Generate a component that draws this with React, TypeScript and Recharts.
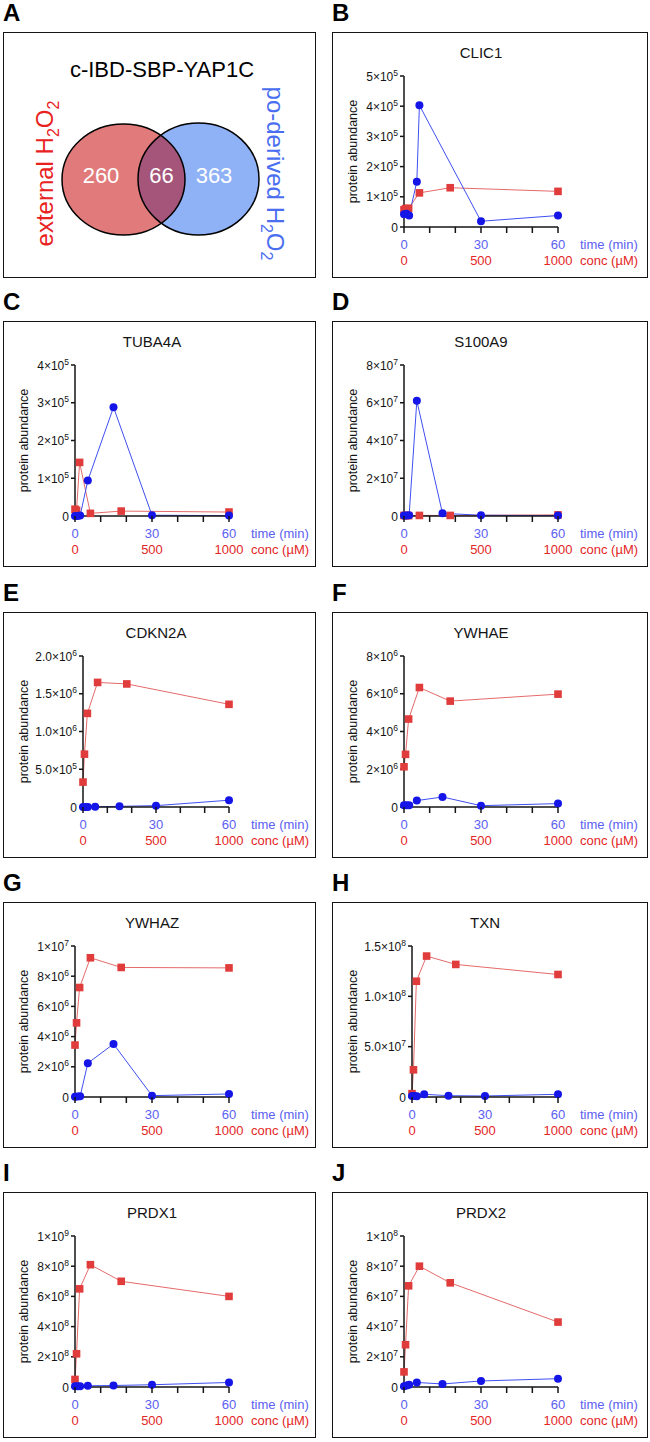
import React from "react";
import { LineChart, Line, XAxis, YAxis, Surface } from "recharts";

const FONT = '"Liberation Sans", Arial, Helvetica, sans-serif';

const RED = "#e03c3c";
const RED_LINE = "#e56a6a";
const RED_TEXT = "#e32626";
const BLUE = "#1515e8";
const BLUE_LINE = "#3f4ff2";
const BLUE_TEXT = "#5b60f2";
const INK = "#141414";

// shared x values
const concUM = [0, 10, 30, 100, 300, 1000];
const timeMin = [0, 1, 2, 5, 15, 30, 60];
const clic1TimeMin = [0, 1, 2, 5, 6, 30, 60];
const timeTicks = [0, 10, 20, 30, 40, 50, 60];
const timeTickLabels = [0, 30, 60];
const concTicks = [0, 500, 1000];

// venn (panel A)
const vennTitle = "c-IBD-SBP-YAP1C";
const vennCounts = [260, 66, 363];

// ext = external H2O2 (red, by conc), po = po-derived H2O2 (blue, by time)
const clic1Ext = [57e3, 61e3, 62e3, 113e3, 130e3, 118e3];
const clic1Po = [42e3, 44e3, 38e3, 150e3, 403e3, 19e3, 38e3];
const clic1Ticks = [0, 1e5, 2e5, 3e5, 4e5, 5e5];

const tuba4aExt = [18e3, 15e3, 142e3, 7e3, 13e3, 10.5e3];
const tuba4aPo = [0, 0, 1e3, 94e3, 288e3, 2e3, 1e3];
const tuba4aTicks = [0, 1e5, 2e5, 3e5, 4e5];

const s100a9Ext = [0.3e6, 0.2e6, 0.2e6, 0.3e6, 0.3e6, 0.6e6];
const s100a9Po = [0.3e6, 0.3e6, 0.4e6, 61e6, 1.4e6, 0.4e6, 0.2e6];
const s100a9Ticks = [0, 2e7, 4e7, 6e7, 8e7];

const cdkn2aExt = [0.33e6, 0.7e6, 1.24e6, 1.65e6, 1.63e6, 1.36e6];
const cdkn2aPo = [0, 0, 0, 2e3, 9e3, 18e3, 90e3];
const cdkn2aTicks = [0, 5e5, 1e6, 1.5e6, 2e6];

const ywhaeExt = [2.13e6, 2.79e6, 4.66e6, 6.33e6, 5.61e6, 5.98e6];
const ywhaePo = [0.09e6, 0.09e6, 0.09e6, 0.34e6, 0.53e6, 0.07e6, 0.18e6];
const ywhaeTicks = [0, 2e6, 4e6, 6e6, 8e6];

const ywhazExt = [3.44e6, 4.91e6, 7.25e6, 9.22e6, 8.58e6, 8.55e6];
const ywhazPo = [0.02e6, 0.03e6, 0.05e6, 2.24e6, 3.51e6, 0.09e6, 0.2e6];
const ywhazTicks = [0, 2e6, 4e6, 6e6, 8e6, 1e7];

const txnExt = [3.3e6, 27e6, 115e6, 140e6, 131.7e6, 121.7e6];
const txnPo = [1e6, 1e6, 0.7e6, 2.7e6, 1.3e6, 1e6, 2.7e6];
const txnTicks = [0, 5e7, 1e8, 1.5e8];

const prdx1Ext = [50e6, 220e6, 650e6, 810e6, 700e6, 600e6];
const prdx1Po = [5e6, 5e6, 5e6, 8e6, 10e6, 15e6, 30e6];
const prdx1Ticks = [0, 2e8, 4e8, 6e8, 8e8, 1e9];

const prdx2Ext = [10e6, 28e6, 67e6, 80e6, 69e6, 43e6];
const prdx2Po = [0.5e6, 1e6, 1.5e6, 3e6, 2e6, 4e6, 5.5e6];
const prdx2Ticks = [0, 2e7, 4e7, 6e7, 8e7, 1e8];

type PanelDef = {
  letter: string;
  name: string;
  col: number;
  row: number;
  ext: number[];
  po: number[];
  poTime: number[];
  yTicks: number[];
  decimals: number;
};

const panels: PanelDef[] = [
  { letter: "B", name: "CLIC1", col: 1, row: 0, ext: clic1Ext, po: clic1Po, poTime: clic1TimeMin, yTicks: clic1Ticks, decimals: 0 },
  { letter: "C", name: "TUBA4A", col: 0, row: 1, ext: tuba4aExt, po: tuba4aPo, poTime: timeMin, yTicks: tuba4aTicks, decimals: 0 },
  { letter: "D", name: "S100A9", col: 1, row: 1, ext: s100a9Ext, po: s100a9Po, poTime: timeMin, yTicks: s100a9Ticks, decimals: 0 },
  { letter: "E", name: "CDKN2A", col: 0, row: 2, ext: cdkn2aExt, po: cdkn2aPo, poTime: timeMin, yTicks: cdkn2aTicks, decimals: 1 },
  { letter: "F", name: "YWHAE", col: 1, row: 2, ext: ywhaeExt, po: ywhaePo, poTime: timeMin, yTicks: ywhaeTicks, decimals: 0 },
  { letter: "G", name: "YWHAZ", col: 0, row: 3, ext: ywhazExt, po: ywhazPo, poTime: timeMin, yTicks: ywhazTicks, decimals: 0 },
  { letter: "H", name: "TXN", col: 1, row: 3, ext: txnExt, po: txnPo, poTime: timeMin, yTicks: txnTicks, decimals: 1 },
  { letter: "I", name: "PRDX1", col: 0, row: 4, ext: prdx1Ext, po: prdx1Po, poTime: timeMin, yTicks: prdx1Ticks, decimals: 0 },
  { letter: "J", name: "PRDX2", col: 1, row: 4, ext: prdx2Ext, po: prdx2Po, poTime: timeMin, yTicks: prdx2Ticks, decimals: 0 },
];

// page layout
const colX = [3, 332];
const colW = [313, 316];
const rowY = [32, 321, 612, 902, 1192];
const BOX_H = 246;
const PLOT_TOP = 44;
const PLOT_BOTTOM = 195;
const PLOT_RIGHT = 226;
const T_AXIS_H = 22;
const C_AXIS_H = 16;
const X_TICK = 6;

const axisStroke = { stroke: INK, strokeWidth: 1.5 };

function sciLabel(v: number, decimals: number) {
  if (v === 0) return { m: "0", e: "" };
  const e = Math.floor(Math.log10(v) + 1e-9);
  const m = (v / Math.pow(10, e)).toFixed(decimals);
  return { m: m + "×10", e: String(e) };
}

// draws its own tick mark so the minor ticks (10, 20, ...) stay visible
const TimeTick = (props: any) => {
  const { x, y, payload } = props;
  const top = y - X_TICK - 2;
  return (
    <g>
      <line x1={x} x2={x} y1={top} y2={top + X_TICK} stroke={INK} strokeWidth={1.5} />
      {timeTickLabels.includes(payload.value) && (
        <text x={x} y={y} dy={14} textAnchor="middle" fill={BLUE_TEXT} fontSize={13} fontFamily={FONT}>
          {payload.value}
        </text>
      )}
    </g>
  );
};

const ConcTick = (props: any) => {
  const { x, y, payload } = props;
  return (
    <text x={x} y={y} dy={16} textAnchor="middle" fill={RED_TEXT} fontSize={13} fontFamily={FONT}>
      {payload.value}
    </text>
  );
};

const makeYTick = (decimals: number) => (props: any) => {
  const { x, y, payload } = props;
  const lab = sciLabel(payload.value, decimals);
  return (
    <text x={x} y={y} dy={4.5} textAnchor="end" fill={INK} fontSize={12} fontFamily={FONT}>
      <tspan>{lab.m}</tspan>
      {lab.e && (
        <tspan dy={-5} fontSize={8.5}>
          {lab.e}
        </tspan>
      )}
    </text>
  );
};

const SquareDot = (props: any) => {
  const { cx, cy, index } = props;
  if (cx == null || cy == null) return <g key={index} />;
  return <rect key={index} x={cx - 3.8} y={cy - 3.8} width={7.6} height={7.6} fill={RED} />;
};

function PanelLetter({ letter, x, y }: { letter: string; x: number; y: number }) {
  return (
    <div
      style={{
        position: "absolute",
        left: x,
        top: y - 31,
        fontFamily: FONT,
        fontWeight: 700,
        fontSize: 24,
        lineHeight: "24px",
        color: "#000",
      }}
    >
      {letter}
    </div>
  );
}

function BoxBorder() {
  return (
    <div
      style={{
        position: "absolute",
        inset: 0,
        border: "1.5px solid " + INK,
        boxSizing: "border-box",
        pointerEvents: "none",
      }}
    />
  );
}

function ProteinPanel({ p }: { p: PanelDef }) {
  const x0 = colX[p.col];
  const y0 = rowY[p.row];
  const w = colW[p.col];
  const plotLeft = p.decimals ? 80 : 72;
  const yMax = p.yTicks[p.yTicks.length - 1];
  const extData = concUM.map((c, i) => ({ x: c, y: p.ext[i] }));
  const poData = p.poTime.map((t, i) => ({ x: t, y: p.po[i] }));
  const bottom = BOX_H - PLOT_BOTTOM - T_AXIS_H - C_AXIS_H;

  return (
    <>
      <PanelLetter letter={p.letter} x={x0} y={y0} />
      <div style={{ position: "absolute", left: x0, top: y0, width: w, height: BOX_H }}>
        <LineChart
          width={w}
          height={BOX_H}
          margin={{ top: PLOT_TOP, right: w - PLOT_RIGHT, bottom, left: 0 }}
        >
          <XAxis
            xAxisId="a"
            type="number"
            dataKey="x"
            domain={[0, 60]}
            ticks={timeTicks}
            interval={0}
            tickSize={X_TICK}
            height={T_AXIS_H}
            axisLine={axisStroke}
            tickLine={false}
            tick={TimeTick}
          />
          <XAxis
            xAxisId="b"
            type="number"
            dataKey="x"
            domain={[0, 1000]}
            ticks={concTicks}
            interval={0}
            tickSize={0}
            tickMargin={0}
            height={C_AXIS_H}
            axisLine={false}
            tickLine={false}
            tick={ConcTick}
          />
          <YAxis
            type="number"
            domain={[0, yMax]}
            ticks={p.yTicks}
            interval={0}
            width={plotLeft}
            tickSize={4}
            axisLine={axisStroke}
            tickLine={axisStroke}
            tick={makeYTick(p.decimals)}
          />
          <Line
            xAxisId="b"
            data={extData}
            dataKey="y"
            type="linear"
            stroke={RED_LINE}
            strokeWidth={1}
            dot={SquareDot}
            activeDot={false}
            isAnimationActive={false}
          />
          <Line
            xAxisId="a"
            data={poData}
            dataKey="y"
            type="linear"
            stroke={BLUE_LINE}
            strokeWidth={1}
            dot={{ r: 4, fill: BLUE, stroke: BLUE, strokeWidth: 0 }}
            activeDot={false}
            isAnimationActive={false}
          />
        </LineChart>
        <svg
          width={w}
          height={BOX_H}
          style={{ position: "absolute", left: 0, top: 0, pointerEvents: "none" }}
          fontFamily={FONT}
        >
          <text x={(plotLeft + PLOT_RIGHT) / 2} y={26} textAnchor="middle" fontSize={15} fill={INK}>
            {p.name}
          </text>
          <text
            transform={`translate(25, ${(PLOT_TOP + PLOT_BOTTOM) / 2}) rotate(-90)`}
            textAnchor="middle"
            fontSize={12.5}
            fill={INK}
          >
            protein abundance
          </text>
          <text x={248} y={217} fontSize={13} fill={BLUE_TEXT}>
            time (min)
          </text>
          <text x={248} y={233} fontSize={13} fill={RED_TEXT}>
            conc (µM)
          </text>
        </svg>
        <BoxBorder />
      </div>
    </>
  );
}

function VennPanel() {
  const x0 = colX[0];
  const y0 = rowY[0];
  const w = colW[0];
  const red = { cx: 120.5, cy: 147.5, rx: 61.5, ry: 55.5 };
  const blue = { cx: 195.5, cy: 147, rx: 60.5, ry: 56 };
  const numX = [98, 158.5, 211];
  return (
    <>
      <PanelLetter letter="A" x={x0} y={y0} />
      <div style={{ position: "absolute", left: x0, top: y0, width: w, height: BOX_H }}>
        <Surface width={w} height={BOX_H} viewBox={{ x: 0, y: 0, width: w, height: BOX_H }}>
          <defs>
            <clipPath id="venn-red-clip">
              <ellipse {...red} />
            </clipPath>
          </defs>
          <ellipse {...red} fill="#e17b7b" />
          <ellipse {...blue} fill="#8fb1f6" />
          <ellipse {...blue} fill="#a5557a" clipPath="url(#venn-red-clip)" />
          <ellipse {...red} fill="none" stroke="#000" strokeWidth={1.5} />
          <ellipse {...blue} fill="none" stroke="#000" strokeWidth={1.5} />
          <text x={159} y={45} textAnchor="middle" fontSize={22} fontFamily={FONT} fill="#000">
            {vennTitle}
          </text>
          {vennCounts.map((n, i) => (
            <text key={n} x={numX[i]} y={151} textAnchor="middle" fontSize={22} fontFamily={FONT} fill="#fff">
              {n}
            </text>
          ))}
          <text
            transform="translate(50, 141.5) rotate(-90)"
            textAnchor="middle"
            fontSize={24}
            fontFamily={FONT}
            fill="#e8221e"
          >
            external H<tspan dy={6} fontSize={16}>2</tspan>
            <tspan dy={-6}>O</tspan>
            <tspan dy={6} fontSize={16}>2</tspan>
          </text>
          <text
            transform="translate(264, 141.5) rotate(90)"
            textAnchor="middle"
            fontSize={24}
            fontFamily={FONT}
            fill="#4a6ef0"
          >
            po-derived H<tspan dy={6} fontSize={16}>2</tspan>
            <tspan dy={-6}>O</tspan>
            <tspan dy={6} fontSize={16}>2</tspan>
          </text>
        </Surface>
        <BoxBorder />
      </div>
    </>
  );
}

export default function App() {
  return (
    <div
      style={{
        position: "absolute",
        left: 0,
        top: 0,
        width: 650,
        height: 1442,
        background: "#fff",
        fontFamily: FONT,
        overflow: "hidden",
      }}
    >
      <VennPanel />
      {panels.map((p) => (
        <ProteinPanel key={p.letter} p={p} />
      ))}
    </div>
  );
}
